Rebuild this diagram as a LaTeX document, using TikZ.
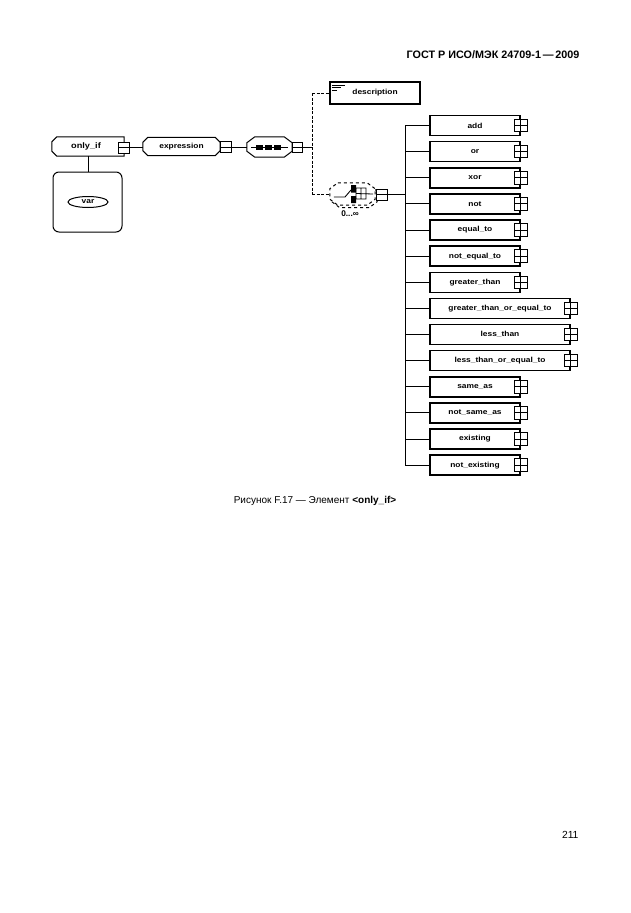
\documentclass[tikz,border=0pt]{standalone}
\usepackage{fontspec}
\setmainfont{Liberation Sans}
\usetikzlibrary{shapes.geometric}
\newcommand\wtxt[1]{\scalebox{1.15}[1]{#1}}
\newcommand\mkoct[8]{%
  \node[minimum width=#5pt, minimum height=#6pt, inner sep=0pt] (#2) at (#3,#4) {};
  \draw[#1] ([xshift=#7pt]#2.north west) -- ([xshift=-#7pt]#2.north east) -- ([yshift=-#8pt]#2.north east)
    -- ([yshift=#8pt]#2.south east) -- ([xshift=-#7pt]#2.south east) -- ([xshift=#7pt]#2.south west)
    -- ([yshift=#8pt]#2.south west) -- ([yshift=-#8pt]#2.north west) -- cycle;}
\tikzset{
  ln/.style={line width=0.9pt},
  dln/.style={line width=0.9pt, dash pattern=on 3pt off 1.5pt},
  lbl/.style={font=\bfseries\fontsize{7.3}{8}\selectfont, inner sep=0pt},
  elem/.style={draw, line width=1.5pt, minimum width=90pt, minimum height=20pt, inner sep=0pt, lbl},
  longelem/.style={elem, minimum width=140pt},
  plusbox/.style={draw, fill=white, line width=0.9pt, minimum size=12.5pt, inner sep=0pt,
    path picture={\draw[line width=0.9pt] (path picture bounding box.north) -- (path picture bounding box.south)
      (path picture bounding box.west) -- (path picture bounding box.east);}},
  minusbox/.style={draw, fill=white, line width=0.9pt, minimum size=11pt, inner sep=0pt,
    path picture={\draw[line width=0.9pt] (path picture bounding box.west) -- (path picture bounding box.east);}},
  shp/.style={line width=1pt, fill=white}
}
\begin{document}
\begin{tikzpicture}[x=1pt,y=-1pt]
\useasboundingbox (0,0) rectangle (630,913);

% header, caption, page number
\node[anchor=east, font=\bfseries\fontsize{10.8}{12}\selectfont] (hdr) at (583,55) {ГОСТ Р ИСО/МЭК 24709-1\,—\,2009};
\node[font=\fontsize{10}{12}\selectfont] (cap) at (315,501) {Рисунок F.17 — Элемент \textbf{<only\_if>}};
\node[anchor=east, font=\fontsize{10.3}{12}\selectfont] (pg) at (582,835) {211};

% only_if
\node[minimum width=72pt, minimum height=19pt, inner sep=0pt] (onlyif) at (88,146.5) {};
\draw[shp] ([xshift=5pt]onlyif.north west) -- (onlyif.north east) -- (onlyif.south east) -- ([xshift=5pt]onlyif.south west)
  -- ([yshift=5pt]onlyif.south west) -- ([yshift=-5pt]onlyif.north west) -- cycle;
\node[lbl, font=\bfseries\fontsize{8}{9}\selectfont] (onlyif-t) at (86,146) {\wtxt{only\_if}};
\node[minusbox] (m1) at (124,147.5) {};

% var
\node[draw, line width=1pt, rounded corners=6pt, minimum width=69pt, minimum height=60pt] (varbox) at (87.5,202) {};
\node[draw, ellipse, line width=1pt, minimum width=40pt, minimum height=11pt, inner sep=0pt, lbl] (var) at (88,202) {\wtxt{var}};
\draw[ln] (onlyif.south -| var) -- (varbox.north -| var);

% expression
\mkoct{shp}{expr}{181.5}{146.5}{77}{18}{5}{5}
\node[lbl] (expr-t) at (expr) {\wtxt{expression}};
\node[minusbox] (m2) at (225.5,147) {};
\draw[ln] (m1.east) -- (expr.west |- m1.east);

% sequence
\mkoct{shp}{seq}{269.5}{147}{45}{20}{8}{6}
\draw[ln] ([xshift=4pt]seq.west) -- ([xshift=-4pt]seq.east);
\foreach \dx in {-10,-1,8} \fill ([xshift=\dx pt]seq.center) ++(-3.2,-2.5) rectangle ++(6.4,5);
\node[minusbox, minimum size=10pt] (m3) at (297,147.5) {};
\draw[ln] (m2.east) -- (seq.west |- m2.east);

% branch
\coordinate (j0) at (312,147.5);
\coordinate (jt) at (312,93);
\coordinate (jb) at (312,194);
\draw[ln] (m3.east) -- (j0);
\draw[dln] (jt) -- (jb);

% description
\node[draw, line width=1.2pt, minimum width=90pt, minimum height=22pt, lbl] (desc) at (375,93) {\wtxt{description}};
\draw[line width=0.8pt] ([xshift=2.5pt,yshift=-3.5pt]desc.north west) -- ++(13,0)
  ([xshift=2.5pt,yshift=-6pt]desc.north west) -- ++(9,0)
  ([xshift=2.5pt,yshift=-8.5pt]desc.north west) -- ++(5,0);
\draw[dln] (jt) -- (desc.west);

% choice
\mkoct{shp, dashed}{chsh}{354.5}{196.5}{45}{22}{8}{6}
\mkoct{shp, dashed}{ch}{352.5}{194}{45}{22}{8}{6}
\draw[ln] ([xshift=4pt]ch.west |- 0,197) -- (345,197) -- (351,190);
\fill (351,185) rectangle (356,192.5) (351,196) rectangle (356,203);
\draw[line width=0.8pt] (356,188) rectangle (366,199) (361,188) -- (361,199) (356,193.5) -- ([xshift=-2pt]ch.east);
\node[font=\bfseries\fontsize{8.3}{9}\selectfont] (occ) at (350,213.5) {0...∞};
\node[minusbox] (m4) at (381.5,194.5) {};
\draw[dln] (jb) -- (ch.west);

% bar
\coordinate (bt) at (405,125.5);
\coordinate (bb) at (405,465.3);
\coordinate (bm) at (405,194.5);
\draw[ln] (m4.east) -- (bm);
\draw[ln] (bt) -- (bb);

% elements
\foreach \lab/\st/\xx [count=\i from 0] in {add/elem/475, or/elem/475, xor/elem/475, not/elem/475, equal\_to/elem/475, not\_equal\_to/elem/475,
  greater\_than/elem/475, greater\_than\_or\_equal\_to/longelem/500, less\_than/longelem/500, less\_than\_or\_equal\_to/longelem/500,
  same\_as/elem/475, not\_same\_as/elem/475, existing/elem/475, not\_existing/elem/475} {
  \pgfmathsetmacro{\yy}{125.5+26.13*\i}
  \node[\st] (e\i) at (\xx,\yy) {\wtxt{\lab}};
  \node[plusbox] (p\i) at (e\i.east) {};
  \coordinate (b\i) at (405,\yy);
  \draw[ln] (b\i) -- (e\i.west);
}
\end{tikzpicture}
\end{document}
